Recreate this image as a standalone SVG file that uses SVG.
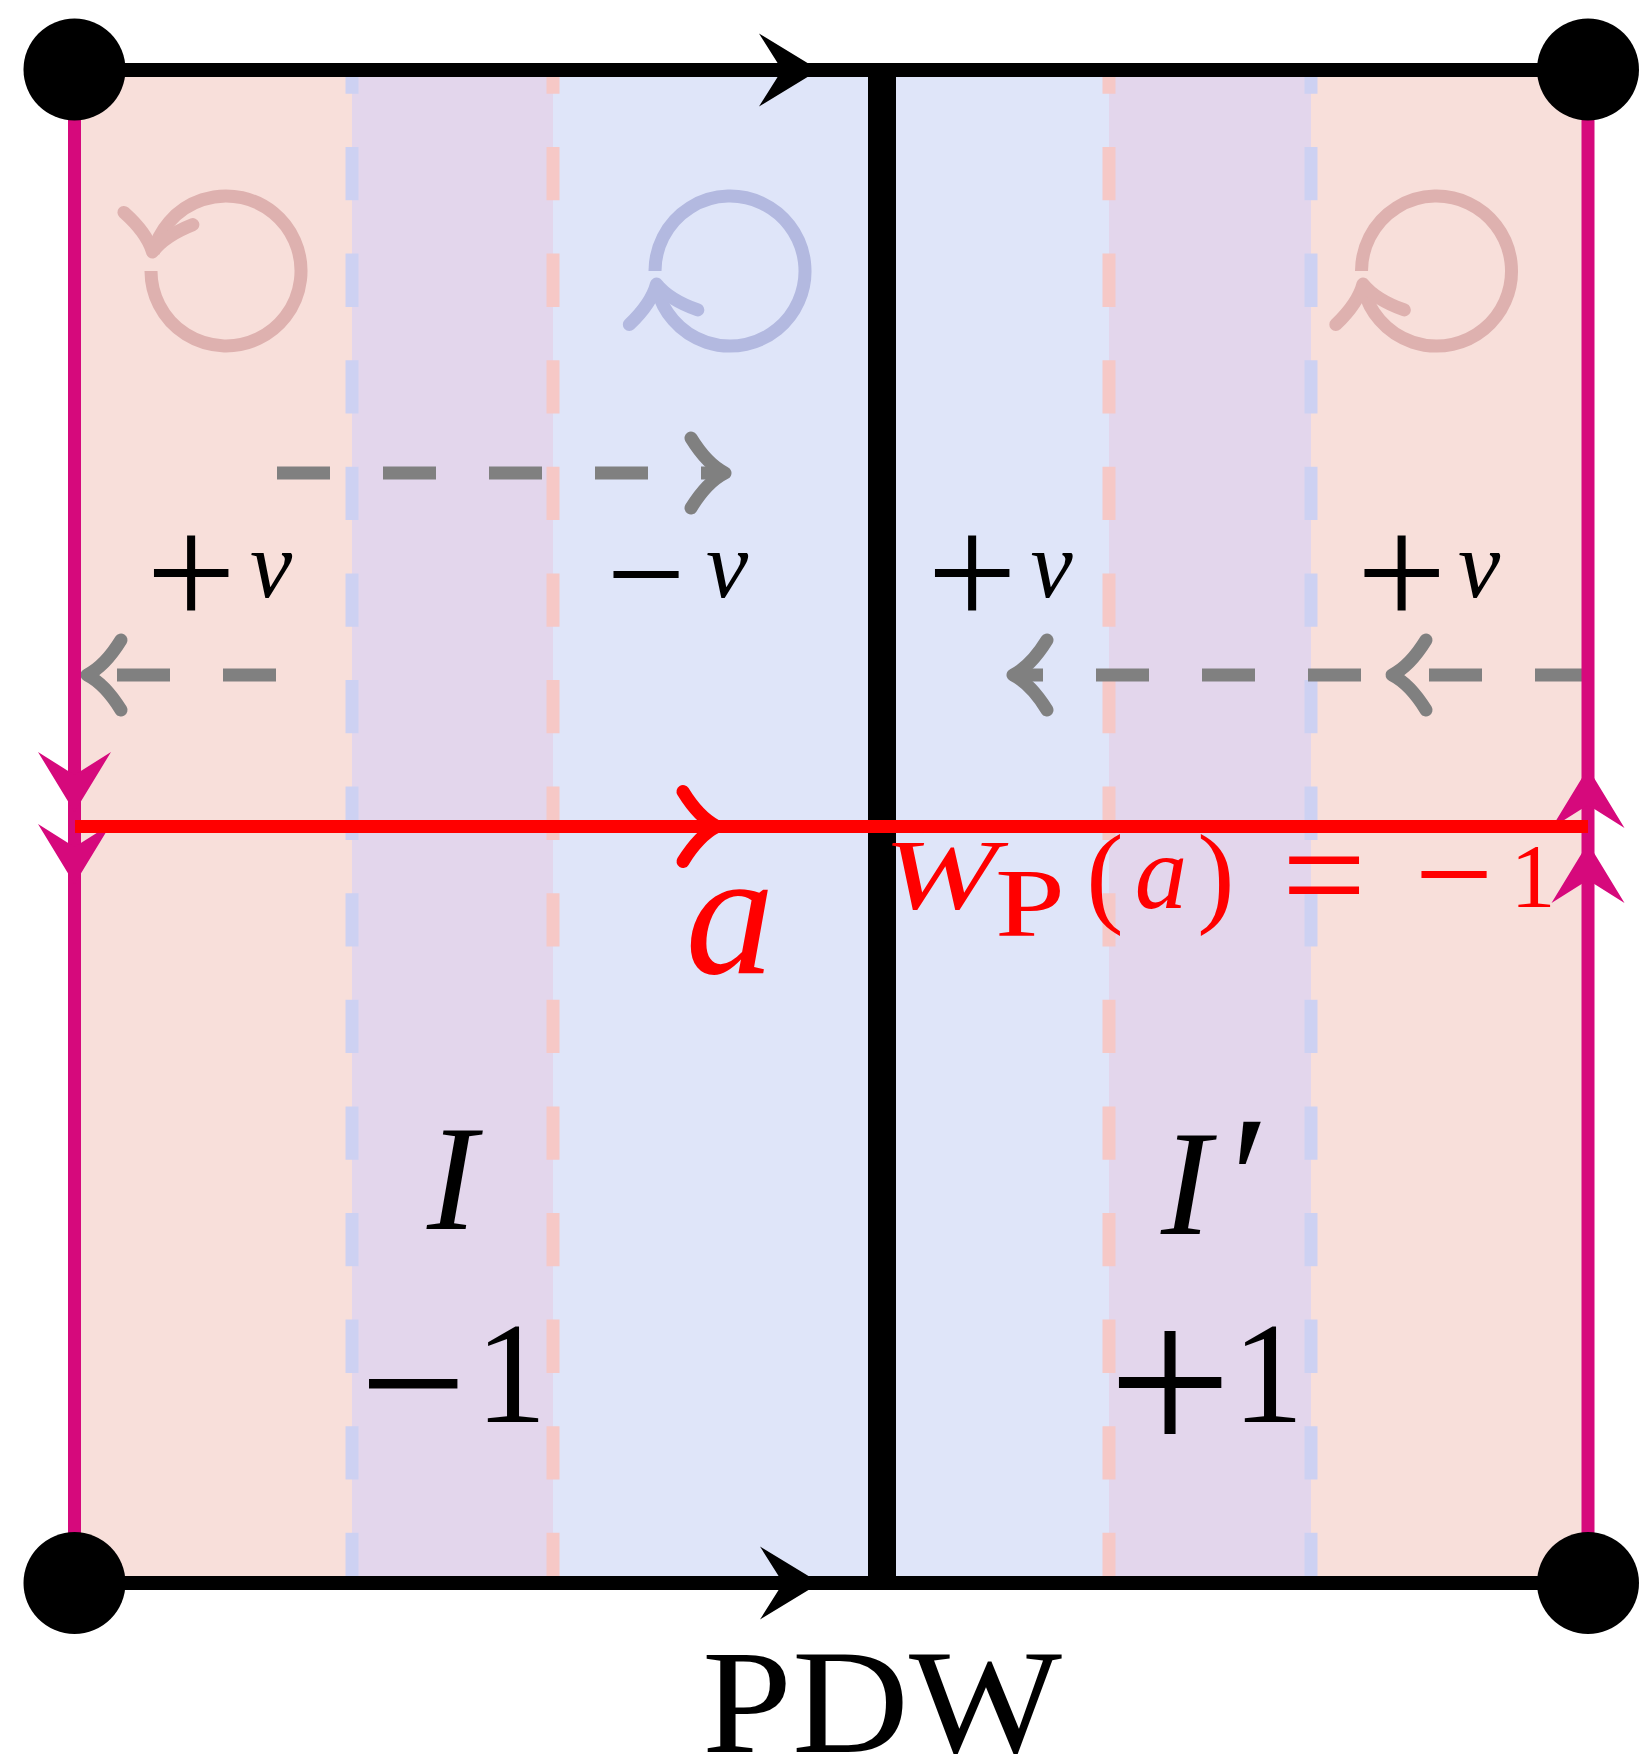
<svg xmlns="http://www.w3.org/2000/svg" width="1639" height="1757" viewBox="0 0 1639 1757">
<defs>
<style>
.pink{fill:#F8DFDA}
.purple{fill:#E3D6EC}
.blue{fill:#DFE5F9}
.bd{fill:none;stroke:#CDD1F2;stroke-width:13;stroke-dasharray:53.3 53.3;stroke-dashoffset:29.6}
.rd{fill:none;stroke:#F6C8C6;stroke-width:13;stroke-dasharray:53.3 53.3;stroke-dashoffset:29.6}
.gray{fill:none;stroke:#808080;stroke-width:13;stroke-dasharray:53 53}
.tip{fill:none;stroke-width:13;stroke-linecap:round;stroke-linejoin:round}
.swirl{fill:none;stroke-width:13}
.math{font-family:"Liberation Serif","Times New Roman",serif}
.it{font-style:italic}
</style>
<path id="stealth" d="M0,0 L-60,-36.5 L-37,0 L-60,36.5 Z"/>
<path id="to" d="M-34,-35 Q-18,-9 0,0 Q-18,9 -34,35"/>
</defs>
<rect width="1639" height="1757" fill="#ffffff"/>
<g id="bands">
<rect class="pink" x="74.5" y="70" width="277.5" height="1513"/>
<rect class="purple" x="352" y="70" width="201" height="1513"/>
<rect class="blue" x="553" y="70" width="329" height="1513"/>
<rect class="blue" x="882" y="70" width="227" height="1513"/>
<rect class="purple" x="1109" y="70" width="202" height="1513"/>
<rect class="pink" x="1311" y="70" width="277" height="1513"/>
</g>
<g id="boundaries">
<line class="bd" x1="352" y1="70" x2="352" y2="1583"/>
<line class="rd" x1="553" y1="70" x2="553" y2="1583"/>
<line class="rd" x1="1109" y1="70" x2="1109" y2="1583"/>
<line class="bd" x1="1311" y1="70" x2="1311" y2="1583"/>
</g>
<g id="swirl-left" stroke="#DEB1AF">
<path class="swirl" d="M151,271 A75,75 0 1 0 153.2,252.9"/>
<use href="#to" class="tip" transform="translate(152.5,252) rotate(100)"/>
</g>
<g id="swirl-mid" stroke="#B3B9E0">
<path class="swirl" d="M655,271 A75,75 0 1 1 657.2,289.1"/>
<use href="#to" class="tip" transform="translate(656.5,284) rotate(-102)"/>
</g>
<g id="swirl-right" stroke="#DEB1AF">
<path class="swirl" d="M1361.5,271 A75,75 0 1 1 1363.7,289.1"/>
<use href="#to" class="tip" transform="translate(1363,284) rotate(-102)"/>
</g>
<g id="connectors">
<g id="gray-flows" stroke="#808080">
<path class="gray" d="M277,473 L725,473"/>
<use href="#to" class="tip" transform="translate(725,473)"/>
<path class="gray" d="M276,675 L87,675"/>
<use href="#to" class="tip" transform="translate(87,675) rotate(180)"/>
<path class="gray" d="M1588,675 L1392,675"/>
<use href="#to" class="tip" transform="translate(1392,675) rotate(180)"/>
<path class="gray" d="M1361,675 L1013,675"/>
<use href="#to" class="tip" transform="translate(1013,675) rotate(180)"/>
</g>
<g id="pdw-wall">
<line x1="882" y1="70" x2="882" y2="1583" stroke="#000" stroke-width="28"/>
</g>
<g id="edges-black">
<line x1="74.5" y1="70" x2="1588" y2="70" stroke="#000" stroke-width="14"/>
<line x1="74.5" y1="1583" x2="1588" y2="1583" stroke="#000" stroke-width="14"/>
<use href="#stealth" fill="#000" transform="translate(819,70)"/>
<use href="#stealth" fill="#000" transform="translate(820,1583)"/>
</g>
<g id="edges-magenta" fill="#D6097C">
<line x1="74.5" y1="70" x2="74.5" y2="1583" stroke="#D6097C" stroke-width="13"/>
<line x1="1588" y1="70" x2="1588" y2="1583" stroke="#D6097C" stroke-width="13"/>
<use href="#stealth" transform="translate(74.5,812) rotate(90)"/>
<use href="#stealth" transform="translate(74.5,884) rotate(90)"/>
<use href="#stealth" transform="translate(1588,768) rotate(-90)"/>
<use href="#stealth" transform="translate(1588,843) rotate(-90)"/>
</g>
<g id="loop-a" stroke="#FF0000">
<line x1="75" y1="826.5" x2="1588" y2="826.5" stroke-width="13"/>
<use href="#to" class="tip" transform="translate(717,826.5)"/>
</g>
</g>
<g id="labels" class="math">
<text text-anchor="middle"><tspan x="191" y="627" font-size="160">+</tspan><tspan x="271" y="597" font-size="95" class="it">v</tspan></text>
<text text-anchor="middle"><tspan x="646" y="621" font-size="140">−</tspan><tspan x="727" y="597" font-size="95" class="it">v</tspan></text>
<text text-anchor="middle"><tspan x="972" y="627" font-size="160">+</tspan><tspan x="1051.5" y="597" font-size="95" class="it">v</tspan></text>
<text text-anchor="middle"><tspan x="1401.5" y="627" font-size="160">+</tspan><tspan x="1479" y="597" font-size="95" class="it">v</tspan></text>
<text x="730" y="973" font-size="178" class="it" fill="#FF0000" text-anchor="middle">a</text>
<g id="label-wp" fill="#FF0000">
<text x="883" y="908" font-size="100" class="it" textLength="115" lengthAdjust="spacingAndGlyphs">W</text>
<text x="995" y="936" font-size="98" textLength="70" lengthAdjust="spacingAndGlyphs">P</text>
<text text-anchor="middle"><tspan x="1105" y="912" font-size="112">(</tspan><tspan x="1161" y="908" font-size="105" class="it">a</tspan><tspan x="1216" y="912" font-size="112">)</tspan><tspan x="1324" y="925" font-size="150">=</tspan><tspan x="1454" y="921" font-size="140">−</tspan><tspan x="1533" y="907" font-size="90">1</tspan></text>
</g>
<text x="452" y="1229" font-size="150" class="it" text-anchor="middle">I</text>
<text text-anchor="middle"><tspan x="413" y="1447" font-size="190">−</tspan><tspan x="511" y="1422" font-size="143">1</tspan></text>
<text text-anchor="middle"><tspan x="1186" y="1234" font-size="150" class="it">I</tspan><tspan x="1250" y="1240" font-size="180">′</tspan></text>
<text text-anchor="middle"><tspan x="1170" y="1456" font-size="220">+</tspan><tspan x="1268" y="1422" font-size="143">1</tspan></text>
<text x="882" y="1752" font-size="148" text-anchor="middle" textLength="360" lengthAdjust="spacingAndGlyphs">PDW</text>
</g>
<g id="corners" fill="#000">
<circle id="corner-tl" cx="74.5" cy="69.5" r="51"/>
<circle id="corner-tr" cx="1588" cy="69.5" r="51"/>
<circle id="corner-bl" cx="74.5" cy="1583" r="51"/>
<circle id="corner-br" cx="1588" cy="1583" r="51"/>
</g>
</svg>
